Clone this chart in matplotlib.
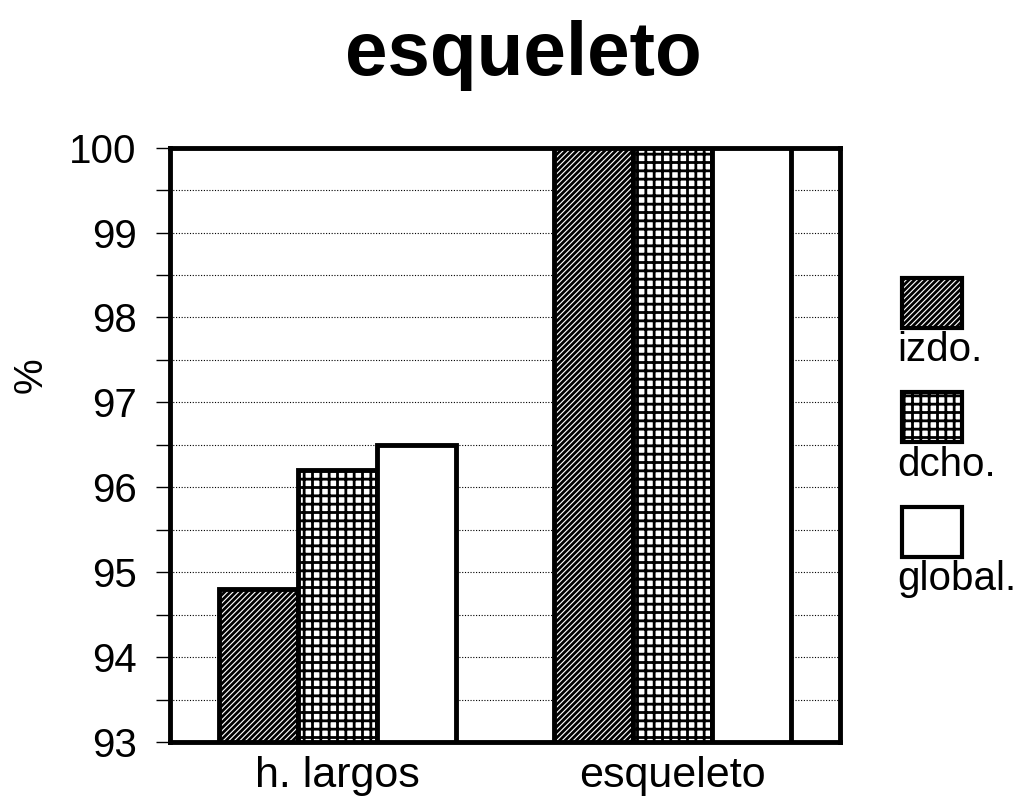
import matplotlib.pyplot as plt
import numpy as np
from matplotlib.patches import Rectangle

plt.rcParams['font.family'] = ['Liberation Sans', 'DejaVu Sans']
plt.rcParams['hatch.linewidth'] = 2.0

categories = ['h. largos', 'esqueleto']
series = ['izdo.', 'dcho.', 'global.']
izdo = [94.8, 100.0]
dcho = [96.2, 100.0]
glob = [96.5, 100.0]
values = [izdo, dcho, glob]
hatches = ['//////', '++', '']

fig = plt.figure(figsize=(10.36, 7.98), dpi=100)
ax = fig.add_axes([0.164, 0.070, 0.647, 0.745])

x = np.arange(len(categories))
w = 0.236
for i, (vals, h) in enumerate(zip(values, hatches)):
    ax.bar(x + (i - 1) * w, np.array(vals) - 93, w, bottom=93,
           facecolor='white', edgecolor='black', linewidth=3.5, hatch=h,
           zorder=3)

ax.set_ylim(93, 100)
ax.set_xlim(-0.5, 1.5)
ax.set_yticks(np.arange(93, 101, 1))
ax.set_yticks(np.arange(93.5, 100, 1), minor=True)
ax.set_xticks(x)
ax.set_xticklabels(categories, fontsize=31)
ax.tick_params(axis='x', length=0, pad=10)
ax.tick_params(axis='y', which='both', direction='out', length=10, width=1, labelsize=29, pad=14)
ax.yaxis.grid(True, which='both', linestyle=(0, (1, 1.5)), color='black', linewidth=0.8, zorder=0)
for s in ax.spines.values():
    s.set_linewidth(3.5)

# y label sits close to the left edge
fig.text(0.03, 0.53, '%', fontsize=29, rotation=90, ha='center', va='center')

fig.suptitle('esqueleto', fontsize=55, fontweight='bold', x=0.505, y=0.975)

# legend: boxes with the label beneath
for i, (lab, h) in enumerate(zip(series, hatches)):
    y0 = 0.589 - i * 0.1435
    fig.patches.append(Rectangle((0.871, y0), 0.058, 0.063, transform=fig.transFigure,
                                 facecolor='white', edgecolor='black', linewidth=3, hatch=h))
    fig.text(0.866, y0 - 0.004, lab, fontsize=29, va='top', ha='left')

fig.savefig('out.png', dpi=100)
